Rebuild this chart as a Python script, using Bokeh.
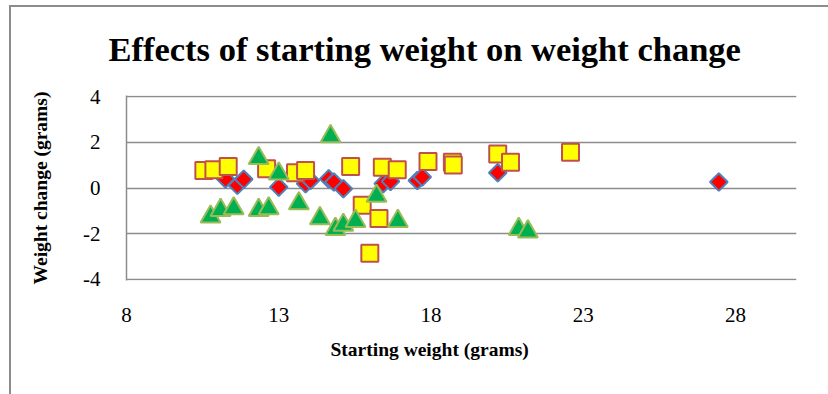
import math
from bokeh.plotting import figure
from bokeh.models import FixedTicker, Range1d, Title
from bokeh.embed import file_html
from bokeh.resources import INLINE

# Series 1: red diamonds (blue outline)
s1_x = [11.25, 11.64, 11.85, 13.00, 13.88, 14.04, 14.64, 14.81, 15.12, 16.43, 16.67, 17.55, 17.71, 20.19, 27.45]
s1_y = [0.40, 0.12, 0.38, 0.04, 0.19, 0.33, 0.40, 0.26, -0.03, 0.19, 0.29, 0.33, 0.48, 0.67, 0.26]

# Series 2: yellow squares (red outline)
s2_x = [10.54, 10.87, 11.34, 12.60, 13.55, 13.88, 15.36, 16.40, 16.89, 17.90, 18.70, 18.73, 20.19, 20.61, 22.58, 15.74, 16.29, 15.99]
s2_y = [0.77, 0.80, 0.94, 0.84, 0.67, 0.77, 0.94, 0.91, 0.80, 1.16, 1.13, 1.01, 1.49, 1.13, 1.57, -0.75, -1.33, -2.86]

# Series 3: green triangles (olive outline)
s3_x = [10.76, 11.09, 11.52, 12.34, 12.34, 12.67, 13.00, 13.66, 14.35, 14.70, 14.86, 15.12, 15.52, 16.21, 16.91, 20.88, 21.18]
s3_y = [-1.26, -0.97, -0.90, 1.30, -0.97, -0.90, 0.62, -0.68, -1.33, 2.26, -1.80, -1.62, -1.45, -0.35, -1.45, -1.80, -1.91]

x_ticks = [8, 13, 18, 23, 28]
y_ticks = [-4, -2, 0, 2, 4]
y_tick_labels = ["-4", "-2", "0", "2", "4"]

title_text = "Effects of starting weight on weight change"
x_label = "Starting weight (grams)"
y_label = "Weight change (grams)"

SERIF = "Liberation Serif"
GRID = "#8c8c8c"

p = figure(width=828, height=394, output_backend="svg", toolbar_location=None,
           x_range=Range1d(8, 30), y_range=Range1d(-4.05, 4.05),
           min_border_left=126, min_border_right=32, min_border_top=94, min_border_bottom=114)
p.outline_line_color = None
p.background_fill_color = "white"
p.border_fill_alpha = 0
p.styles = {
    "background-color": "white",
    "background-image": "linear-gradient(#8c8c8c,#8c8c8c), linear-gradient(#8c8c8c,#8c8c8c)",
    "background-size": "820px 2px, 2px 390px",
    "background-position": "9px 5px, 9px 5px",
    "background-repeat": "no-repeat",
}

p.add_layout(Title(text=title_text, align="left", offset=-18, standoff=55,
                   text_font=SERIF, text_font_style="bold", text_font_size="34.5px",
                   text_color="black"), "above")

p.xaxis.ticker = FixedTicker(ticks=x_ticks)
p.yaxis.ticker = FixedTicker(ticks=y_ticks)
p.yaxis.major_label_overrides = dict(zip(y_ticks, y_tick_labels))
for ax in (p.xaxis, p.yaxis):
    ax.major_tick_line_color = None
    ax.minor_tick_line_color = None
    ax.axis_line_color = GRID
    ax.axis_line_width = 1.5
    ax.major_label_text_font = SERIF
    ax.major_label_text_font_size = "21px"
    ax.major_label_text_color = "black"
p.xaxis.axis_line_color = None
p.xaxis.major_label_standoff = 21
p.yaxis.major_label_standoff = 20

p.add_layout(Title(text=x_label, align="left", offset=204, standoff=24,
                   text_font=SERIF, text_font_style="bold", text_font_size="19.5px",
                   text_color="black"), "below")
p.yaxis.axis_label = y_label
p.yaxis.axis_label_text_font = SERIF
p.yaxis.axis_label_text_font_style = "bold"
p.yaxis.axis_label_text_font_size = "19.5px"
p.yaxis.axis_label_text_color = "black"
p.yaxis.axis_label_standoff = 29

p.xgrid.grid_line_color = None
p.ygrid.grid_line_color = GRID
p.ygrid.grid_line_width = 1.5
p.ygrid.ticker = FixedTicker(ticks=y_ticks)

p.scatter(s1_x, s1_y, marker="square", angle=math.pi / 4, size=12.5,
          fill_color="#FF0000", line_color="#4F81BD", line_width=2)
p.scatter(s2_x, s2_y, marker="square", size=17,
          fill_color="#FFFF00", line_color="#C0504D", line_width=2)
p.scatter(s3_x, s3_y, marker="triangle", size=20,
          fill_color="#00B050", line_color="#9BBB59", line_width=2)

open("out.html", "w").write(file_html(p, INLINE))
